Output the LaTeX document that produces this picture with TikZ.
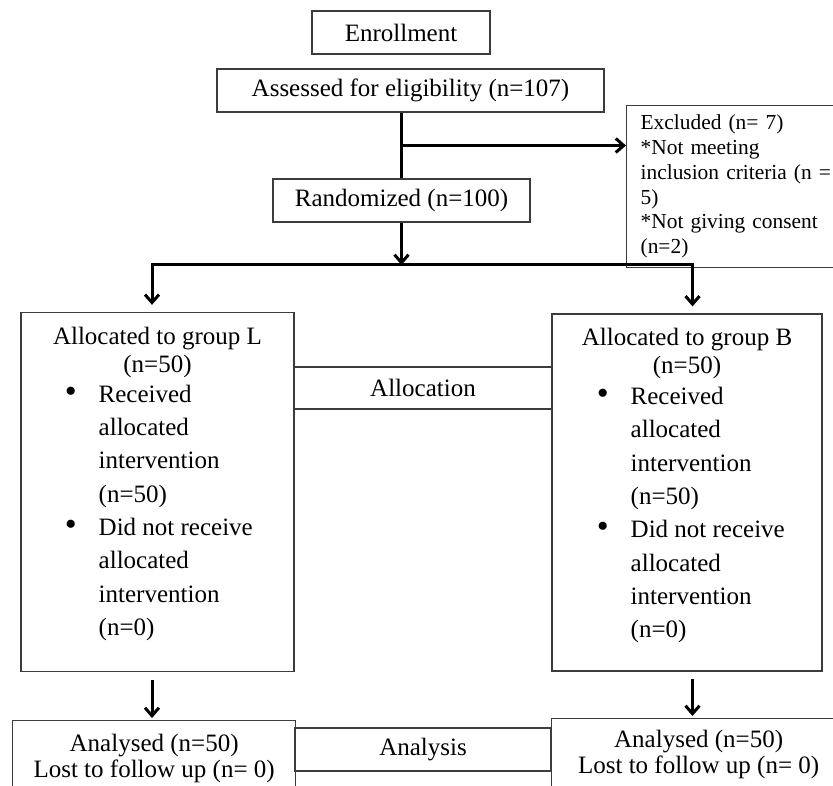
\documentclass[tikz,border=0pt]{standalone}
\usepackage{fontspec}
\setmainfont{Liberation Serif}
\usetikzlibrary{arrows.meta,positioning,calc}
\definecolor{boxgray}{RGB}{60,60,60}

\begin{document}
\begin{tikzpicture}[x=1pt,y=-1pt,
  box/.style={rectangle,draw=boxgray,line width=1.3pt,inner sep=0pt,
              minimum height=43pt,font=\fontsize{25}{30}\selectfont,align=center},
  grp/.style={box,minimum width=273pt,minimum height=359pt},
  anabox/.style={box,font=\fontsize{25}{26}\selectfont},
  exbox/.style={box,anchor=north west,align=left,text width=200pt,
                inner xsep=14pt,inner ysep=0pt,minimum height=162pt,
                font=\fontsize{21.4}{24.8}\selectfont},
  ttl/.style={inner sep=0pt,font=\fontsize{25}{28}\selectfont,align=center},
  lst/.style={inner sep=0pt,font=\fontsize{25}{33.3}\selectfont,anchor=north west},
  flow/.style={line width=3pt},
  arr/.style={flow,-{Straight Barb[length=8pt,width=14pt]}},
]
\newcommand\bul{{\fontsize{34}{33}\selectfont\textbullet}}
\path[use as bounding box,clip] (0,0) rectangle (833,786);

% Enrollment
\node[box, minimum width=178pt] (enroll) at (401,32.5) {Enrollment};
\node[box, minimum width=387pt] (assess) at (410.5,90.5) {Assessed for eligibility (n=107)};
\node[box, minimum width=257pt] (rand)   at (401.5,200.5) {Randomized (n=100)};
\node[exbox] (excl) at (626,105) {Excluded (n= 7)\\{*}Not meeting\\inclusion criteria (n =\\5)\\{*}Not giving consent\\(n=2)};

\draw[flow] (rand.north |- assess.south) -- (rand.north);
\coordinate (split) at ($(rand.north |- assess.south)!0.5!(rand.north)$);
\draw[arr] (split) -- (split -| excl.west);

% Allocation
\node[grp] (grpL) at (157.5,492) {};
\node[grp, minimum width=270pt, minimum height=357pt] (grpB) at (687,492.5) {};
\node[box, minimum width=258pt, minimum height=42pt] (alloc) at (423,388) {Allocation};

\node[ttl] (ttlL) at (157.5,352) {Allocated to group L\\(n=50)};
\node[ttl] (ttlB) at (687,353) {Allocated to group B\\(n=50)};
\node[lst] (lstL) at (64.6,378.7) {\begin{tabular}{@{}l@{\hspace{22pt}}l@{}}
  \bul & Received\\ & allocated\\ & intervention\\ & (n=50)\\
  \bul & Did not receive\\ & allocated\\ & intervention\\ & (n=0)
\end{tabular}};
\node[lst] (lstB) at (596.6,381) {\begin{tabular}{@{}l@{\hspace{22pt}}l@{}}
  \bul & Received\\ & allocated\\ & intervention\\ & (n=50)\\
  \bul & Did not receive\\ & allocated\\ & intervention\\ & (n=0)
\end{tabular}};

\coordinate (fork)  at (401.5,265);
\coordinate (dropL) at (152,265);
\coordinate (dropR) at (692.5,265);
\draw[arr] (rand.south) -- (fork);
\draw[arr, shorten >=7pt] (fork) -| (dropL |- grpL.north);
\draw[arr, shorten >=7pt] (fork) -| (dropR |- grpB.north);

% Analysis
\node[anabox, minimum width=283pt, minimum height=76pt, anchor=north west] (anaL) at (12,720)
  {Analysed (n=50)\\Lost to follow up (n= 0)};
\node[anabox, minimum width=294pt, minimum height=71pt, anchor=north west] (anaB) at (551,718)
  {Analysed (n=50)\\Lost to follow up (n= 0)};
\node[box, minimum width=256pt, minimum height=43pt] (anal) at (423,749.5) {Analysis};

\draw[arr, shorten <=8pt, shorten >=2pt] (dropL |- grpL.south) -- (dropL |- anaL.north);
\draw[arr, shorten <=7pt, shorten >=2pt] (dropR |- grpB.south) -- (dropR |- anaB.north);
\end{tikzpicture}
\end{document}
